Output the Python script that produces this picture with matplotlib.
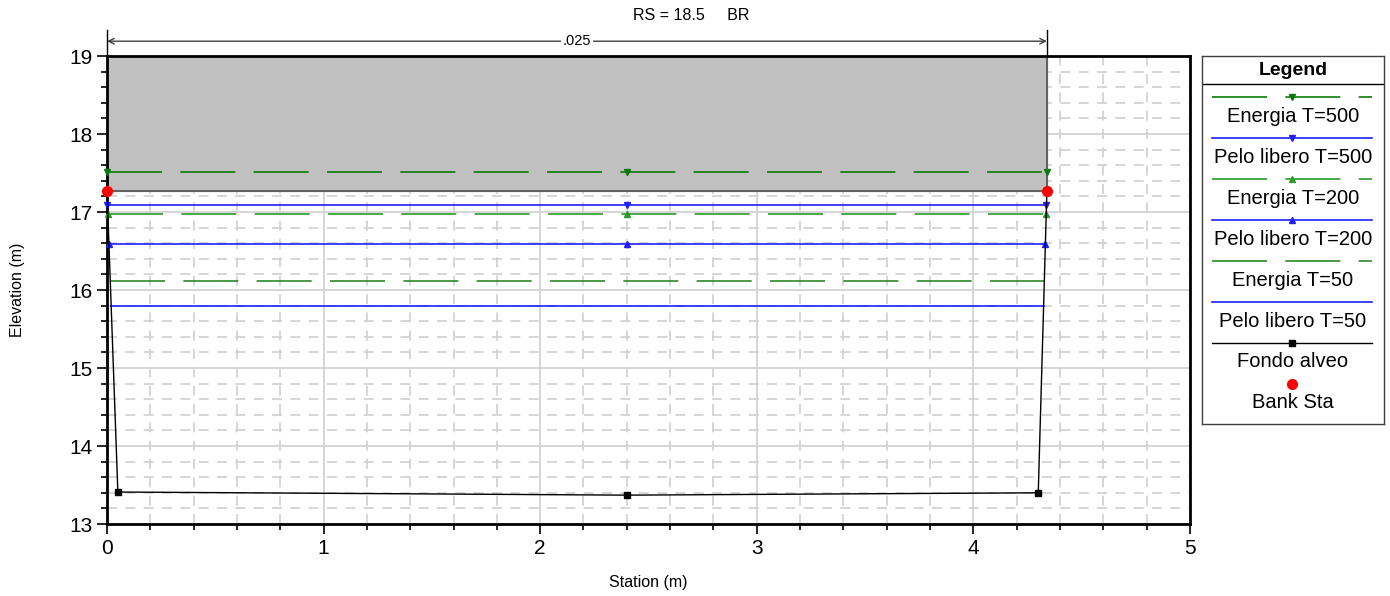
import numpy as np
import matplotlib.pyplot as plt
from matplotlib.ticker import MultipleLocator

plt.rcParams['font.family'] = ['Liberation Sans', 'DejaVu Sans']

# --- data ---
deck_station = [0.0, 4.34]
deck_low = 17.27
deck_high = 19.0

ground_station = [0.0, 0.05, 2.40, 4.30, 4.34]
ground_elev = [17.27, 13.41, 13.37, 13.40, 17.27]

bank_station = [0.0, 4.34]
bank_elev = [17.27, 17.27]

profile_names = ['Energia T=500', 'Pelo libero T=500', 'Energia T=200',
                 'Pelo libero T=200', 'Energia T=50', 'Pelo libero T=50']
profile_elev = [17.51, 17.09, 16.97, 16.59, 16.12, 15.79]
profile_left = [0.0, 0.002, 0.004, 0.009, 0.015, 0.019]
profile_right = [4.34, 4.338, 4.337, 4.333, 4.328, 4.325]
profile_mid = 2.40

manning_n = '.025'
title = 'RS = 18.5     BR'

# styles
blue = '#1f1fff'
dash = (0, (33, 11))
styles = [
    dict(color='#0b7a0b', ls=dash, marker='v'),
    dict(color=blue, ls='-', marker='v'),
    dict(color='#2a9a2a', ls=dash, marker='^'),
    dict(color=blue, ls='-', marker='^'),
    dict(color='#2a8a2a', ls=dash, marker=None),
    dict(color=blue, ls='-', marker=None),
]

fig = plt.figure(figsize=(13.9, 5.96), dpi=100)
ax = fig.add_axes([0.077, 0.1208, 0.779, 0.7852])

ax.set_xlim(0, 5)
ax.set_ylim(13, 19)
ax.xaxis.set_major_locator(MultipleLocator(1))
ax.xaxis.set_minor_locator(MultipleLocator(0.2))
ax.yaxis.set_major_locator(MultipleLocator(1))
ax.yaxis.set_minor_locator(MultipleLocator(0.2))
ax.grid(which='major', color='#d0d0d0', lw=1.2, zorder=0)
ax.grid(which='minor', color='#d0d0d0', lw=1.2, ls=(0, (6, 5)), zorder=0)
ax.set_axisbelow(True)
ax.tick_params(which='major', length=7, width=1.2, labelsize=15, direction='out')
ax.tick_params(which='minor', length=4, width=1.2, direction='out')
for s in ax.spines.values():
    s.set_linewidth(2)

# deck / bridge
ax.fill_between(deck_station, deck_low, deck_high, color='#c0c0c0', zorder=1)
ax.plot([deck_station[0], deck_station[1], deck_station[1]],
        [deck_low, deck_low, deck_high], color='#505050', lw=1.2, zorder=2)

# water profiles
for name, el, xl, xr, st in zip(profile_names, profile_elev, profile_left,
                                profile_right, styles):
    xs = [xl, profile_mid, xr]
    ax.plot(xs, [el] * 3, color=st['color'], ls=st['ls'], lw=1.2,
            marker=st['marker'], ms=5, zorder=3, clip_on=False)

ax.plot(ground_station, ground_elev, color='black', lw=1.0, zorder=4)
ax.plot(ground_station[1:-1], ground_elev[1:-1], 's', color='black', ms=5, zorder=4)
ax.plot(bank_station, bank_elev, 'o', color='red', ms=7, zorder=5, clip_on=False)

# dimension line for roughness
ydim = 19.19
ax.annotate('', xy=(deck_station[0], ydim), xytext=(deck_station[1], ydim),
            arrowprops=dict(arrowstyle='<->', color='#404040', lw=1.0,
                            shrinkA=0, shrinkB=0), annotation_clip=False)
for xv in deck_station:
    ax.plot([xv, xv], [19.0, 19.34], color='black', lw=1.0, clip_on=False)
ax.text(sum(deck_station) / 2, ydim, manning_n, ha='center', va='center',
        fontsize=10.5, bbox=dict(facecolor='white', edgecolor='none', pad=1))

fig.text(691 / 1390, 1 - 16 / 596, title, ha='center', va='center', fontsize=11.5)
fig.text(0.4665, 1 - 582 / 596, 'Station (m)', ha='center', va='center', fontsize=11.5)
fig.text(18 / 1390, 1 - 290 / 596, 'Elevation (m)', ha='center', va='center',
         rotation=90, fontsize=11.5)

# legend panel
lg = fig.add_axes([0.8647, 0.2886, 0.131, 0.6174])
lg.set_xlim(0, 182)
lg.set_ylim(368, 0)
lg.set_xticks([])
lg.set_yticks([])
for s in lg.spines.values():
    s.set_linewidth(1.0)
    s.set_color('#404040')
lg.text(91, 14, 'Legend', ha='center', va='center', fontsize=14, fontweight='bold')
lg.axhline(28, color='black', lw=1.0)
for i, (name, st) in enumerate(zip(profile_names, styles)):
    yl = 41 + i * 41
    lg.plot([10, 170], [yl, yl], color=st['color'], ls=st['ls'], lw=1.2)
    if st['marker']:
        lg.plot([90], [yl], marker=st['marker'], color=st['color'], ms=5)
    lg.text(91, yl + 19, name, ha='center', va='center', fontsize=14.5)
yl = 41 + 6 * 41
lg.plot([10, 170], [yl, yl], color='black', lw=1.0)
lg.plot([90], [yl], 's', color='black', ms=5)
lg.text(91, yl + 19, 'Fondo alveo', ha='center', va='center', fontsize=14.5)
yl = 41 + 7 * 41
lg.plot([90], [yl], 'o', color='red', ms=7)
lg.text(91, yl + 19, 'Bank Sta', ha='center', va='center', fontsize=14.5)

fig.savefig('out.png', dpi=100)
